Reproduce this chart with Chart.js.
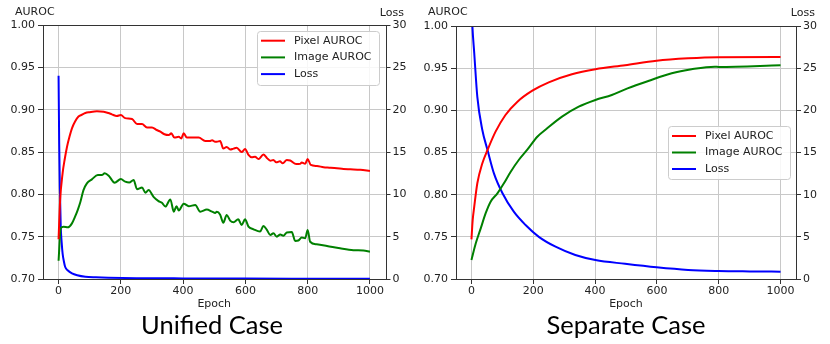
<!DOCTYPE html>
<html>
<head>
<meta charset="utf-8">
<script src="https://cdn.jsdelivr.net/npm/chart.js@4.4.1/dist/chart.umd.min.js"></script>
<style>
  body { margin:0; background:#fff; width:830px; height:344px; overflow:hidden; position:relative; }
  #c1 { position:absolute; left:0; top:0; }
  #c2 { position:absolute; left:415px; top:0; }
  .cap { position:absolute; top:309px; font-family:Lato, "Open Sans", sans-serif; font-size:25.5px; line-height:30px; color:#000; transform:translateX(-50%); white-space:nowrap; }
</style>
</head>
<body>
<canvas id="c1" width="415" height="312"></canvas>
<canvas id="c2" width="415" height="312"></canvas>
<div class="cap" style="left:212px">Unified Case</div>
<div class="cap" style="left:626px">Separate Case</div>
<script>
// ---------- tick labels / categories ----------
const epochTicks = [0, 200, 400, 600, 800, 1000];
const seriesNames = ["Pixel AUROC", "Image AUROC", "Loss"];
const chartTitles = ["Unified Case", "Separate Case"];

// ---------- Unified case ----------
const uPixelEpochs = [0,5,13,20,27,35,43,53,64,75,86,100,123,145,160,171,187,200,214,236,252,268,284,300,315,327,340,354,362,372,386,394,402,412,430,450,471,486,493,503,508,519,529,540,551,562,572,588,599,610,620,631,642,658,669,680,690,699,711,720,733,744,763,776,781,792,800,810,830,851,870,894,915,937,969,1000];
const uPixelValues = [0.747,0.793,0.825,0.842,0.856,0.868,0.878,0.886,0.892,0.894,0.896,0.897,0.898,0.8975,0.896,0.8945,0.8925,0.8937,0.890,0.889,0.883,0.883,0.879,0.879,0.876,0.874,0.871,0.870,0.872,0.867,0.868,0.866,0.872,0.867,0.867,0.867,0.863,0.863,0.864,0.862,0.862,0.863,0.854,0.856,0.853,0.854,0.855,0.850,0.8535,0.8465,0.8437,0.8445,0.8417,0.847,0.843,0.8398,0.8405,0.8378,0.839,0.8366,0.8405,0.840,0.8358,0.836,0.8376,0.836,0.8417,0.8347,0.8335,0.832,0.8315,0.8308,0.830,0.8296,0.829,0.8275];

const uImageEpochs = [0,7,16,30,43,53,62,70,80,91,107,126,139,148,161,180,200,214,227,241,252,268,279,289,305,321,332,343,359,370,379,386,402,418,439,455,476,493,503,508,519,529,540,551,562,577,588,599,610,626,647,658,669,680,690,701,712,722,733,749,760,770,781,792,800,808,829,862,904,947,979,1000];
const uImageValues = [0.7216,0.760,0.7618,0.761,0.7657,0.7736,0.782,0.791,0.805,0.813,0.8177,0.8228,0.8228,0.8248,0.822,0.8138,0.818,0.815,0.814,0.817,0.806,0.808,0.802,0.805,0.797,0.792,0.790,0.7855,0.794,0.7795,0.786,0.781,0.789,0.786,0.7874,0.7795,0.782,0.7795,0.778,0.7795,0.776,0.7665,0.7756,0.769,0.767,0.7705,0.7638,0.7705,0.7618,0.7587,0.756,0.7626,0.758,0.752,0.754,0.750,0.7525,0.751,0.755,0.7555,0.745,0.7455,0.749,0.748,0.758,0.744,0.741,0.739,0.7362,0.734,0.7336,0.7323];

const uLossEpochs = [0,2,4,7,10,13,17,21,30,43,60,86,120,160,250,400,600,800,1000];
const uLossValues = [24,16,11,6.2,4.3,3.0,2.1,1.45,1.0,0.67,0.45,0.27,0.2,0.15,0.1,0.07,0.05,0.04,0.03];

// ---------- Separate case ----------
const sPixelEpochs = [0,4,9,19,35,52,78,110,148,197,250,325,401,497,599,701,798,1000];
const sPixelValues = [0.747,0.770,0.7857,0.8135,0.837,0.853,0.8747,0.8945,0.910,0.9233,0.9332,0.9427,0.9487,0.9535,0.9589,0.9617,0.963,0.9632];

const sImageEpochs = [0,14,30,46,62,84,105,127,153,180,213,245,293,347,401,454,505,572,648,712,787,800,1000];
const sImageValues = [0.7225,0.7423,0.760,0.778,0.7917,0.8016,0.8135,0.8272,0.8411,0.853,0.8687,0.8787,0.8925,0.9043,0.9123,0.9182,0.926,0.9348,0.944,0.9487,0.9518,0.9515,0.9534];

const sLossEpochs = [0,3,9,19,35,52,73,100,137,175,218,272,336,401,497,599,701,798,900,1000];
const sLossValues = [33,30,26.8,21.6,17.7,15.3,12.5,10.2,7.98,6.4,5.0,3.83,2.85,2.25,1.8,1.38,1.07,0.95,0.9,0.87];

// ---------- helpers ----------
const FONT = '"DejaVu Sans", sans-serif';
const SPINE = '#333333';
const GRID = '#c8c8c8';
const TXT = '#222222';
const COLORS = ['#ff0000', '#008000', '#0000ff'];

function pts(ep, vals) { return ep.map((e, i) => ({ x: e, y: vals[i] })); }

const decor = {
  id: 'decor',
  afterDatasetsDraw(chart, args, o) {
    const ctx = chart.ctx;
    ctx.save();
    const lg = o.legend;
    ctx.fillStyle = 'rgba(255,255,255,0.85)';
    ctx.strokeStyle = '#cccccc';
    ctx.lineWidth = 1;
    const r = 3, x0 = lg.x + 0.5, y0 = lg.y + 0.5, w = lg.w, h = lg.h;
    ctx.beginPath();
    ctx.moveTo(x0 + r, y0);
    ctx.lineTo(x0 + w - r, y0); ctx.arcTo(x0 + w, y0, x0 + w, y0 + r, r);
    ctx.lineTo(x0 + w, y0 + h - r); ctx.arcTo(x0 + w, y0 + h, x0 + w - r, y0 + h, r);
    ctx.lineTo(x0 + r, y0 + h); ctx.arcTo(x0, y0 + h, x0, y0 + h - r, r);
    ctx.lineTo(x0, y0 + r); ctx.arcTo(x0, y0, x0 + r, y0, r);
    ctx.closePath(); ctx.fill(); ctx.stroke();
    ctx.font = '11px ' + FONT;
    ctx.textBaseline = 'middle';
    ctx.textAlign = 'left';
    chart.data.datasets.forEach((ds, i) => {
      const y = lg.y + lg.first + i * lg.step;
      ctx.strokeStyle = ds.borderColor; ctx.lineWidth = 2;
      ctx.beginPath(); ctx.moveTo(lg.x + 4, y); ctx.lineTo(lg.x + 28, y); ctx.stroke();
      ctx.fillStyle = TXT;
      ctx.fillText(ds.label, lg.x + 37, y);
    });
    ctx.restore();
  },
  afterDraw(chart, args, o) {
    const ctx = chart.ctx, a = chart.chartArea;
    ctx.save();
    ctx.strokeStyle = SPINE; ctx.lineWidth = 1;
    ctx.strokeRect(Math.round(a.left) + 0.5, Math.round(a.top) + 0.5,
                   Math.round(a.right) - Math.round(a.left), Math.round(a.bottom) - Math.round(a.top));
    ctx.font = '11px ' + FONT;
    ctx.fillStyle = TXT;
    ctx.textBaseline = 'middle';
    ctx.textAlign = 'left';
    ctx.fillText(o.leftLabel, o.leftLabelX, 12);
    ctx.textAlign = 'right';
    ctx.fillText(o.rightLabel, o.rightLabelX, 13);
    ctx.restore();
  }
};

function makeChart(id, data, cfg) {
  const ds = data.map((d, i) => ({
    label: seriesNames[i],
    data: d,
    borderColor: COLORS[i],
    backgroundColor: COLORS[i],
    borderWidth: 2,
    pointRadius: 0,
    cubicInterpolationMode: 'monotone',
    yAxisID: i === 2 ? 'y2' : 'y'
  }));
  return new Chart(document.getElementById(id), {
    type: 'line',
    data: { datasets: ds },
    plugins: [decor],
    options: {
      responsive: false,
      animation: false,
      layout: { padding: { top: cfg.top, left: 0, right: 0, bottom: 1 } },
      plugins: {
        legend: { display: false },
        tooltip: { enabled: false },
        decor: {
          legend: cfg.legend,
          leftLabel: 'AUROC', leftLabelX: cfg.leftLabelX,
          rightLabel: 'Loss', rightLabelX: cfg.rightLabelX
        }
      },
      scales: {
        x: {
          type: 'linear', min: -50, max: 1050,
          afterBuildTicks: s => { s.ticks = epochTicks.map(v => ({ value: v })); },
          afterFit: s => { s.height = 32; },
          ticks: { font: { family: FONT, size: 11 }, color: TXT, padding: 1, maxRotation: 0,
                   callback: v => String(v) },
          grid: { color: GRID, lineWidth: 1, tickColor: SPINE, tickLength: 5 },
          border: { display: false },
          title: { display: true, text: 'Epoch', font: { family: FONT, size: 11 }, color: TXT, padding: { top: 0, bottom: 0 } }
        },
        y: {
          position: 'left', min: 0.70, max: 1.00,
          afterFit: s => { s.width = cfg.leftW; },
          ticks: { stepSize: 0.05, font: { family: FONT, size: 11 }, color: TXT, padding: 3,
                   callback: v => Number(v).toFixed(2) },
          grid: { color: GRID, lineWidth: 1, tickColor: SPINE, tickLength: 5 },
          border: { display: false }
        },
        y2: {
          position: 'right', min: 0, max: 30,
          afterFit: s => { s.width = cfg.rightW; },
          ticks: { stepSize: 5, font: { family: FONT, size: 11 }, color: TXT, padding: 2,
                   callback: v => String(v) },
          grid: { drawOnChartArea: false, tickColor: SPINE, tickLength: 5 },
          border: { display: false }
        }
      }
    }
  });
}

makeChart('c1',
  [pts(uPixelEpochs, uPixelValues), pts(uImageEpochs, uImageValues), pts(uLossEpochs, uLossValues)],
  { top: 25, leftW: 43, rightW: 29.5, leftLabelX: 15, rightLabelX: 404,
    legend: { x: 257, y: 31, w: 122, h: 54, first: 9.7, step: 16.7 } });

makeChart('c2',
  [pts(sPixelEpochs, sPixelValues), pts(sImageEpochs, sImageValues), pts(sLossEpochs, sLossValues)],
  { top: 26, leftW: 41, rightW: 34, leftLabelX: 13, rightLabelX: 400,
    legend: { x: 253, y: 126, w: 122, h: 53, first: 10, step: 16.5 } });
</script>
</body>
</html>
